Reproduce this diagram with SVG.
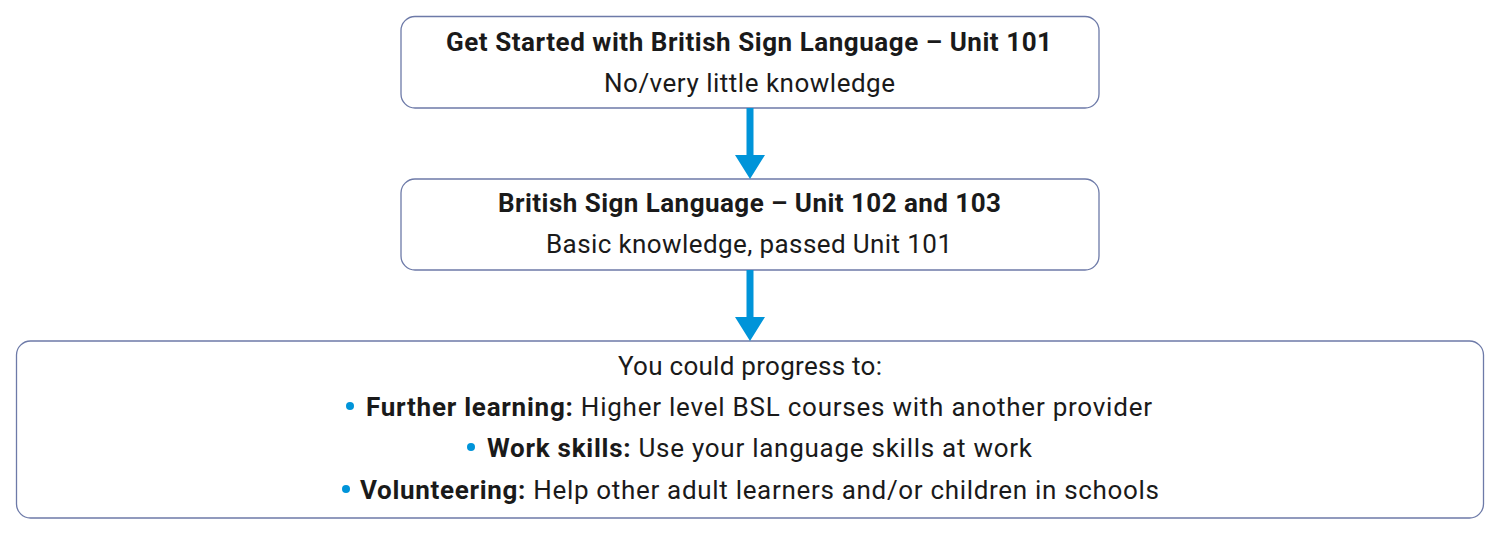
<svg xmlns="http://www.w3.org/2000/svg" width="1500" height="534" viewBox="0 0 1500 534">
<style>
.box{fill:#fff;stroke:#6d7aa8;stroke-width:1.3}
text{font-family:Roboto,"Liberation Sans",sans-serif;font-size:26px;fill:#1a1a1a}
.b{font-weight:bold}
.dot{fill:#0094d9}
.arr{fill:#0094d9}
</style>
<rect width="1500" height="534" fill="#fff"/>
<g id="node1">
<rect class="box" x="401" y="16.5" width="698" height="91.5" rx="14"/>
<text x="446" y="51" class="b" textLength="606" lengthAdjust="spacing">Get Started with British Sign Language – Unit 101</text>
<text x="604" y="92" textLength="291" lengthAdjust="spacing">No/very little knowledge</text>
</g>
<g id="node2">
<rect class="box" x="401" y="179" width="698" height="91" rx="14"/>
<text x="498" y="212" class="b" textLength="503" lengthAdjust="spacing">British Sign Language – Unit 102 and 103</text>
<text x="546" y="253" textLength="406" lengthAdjust="spacing">Basic knowledge, passed Unit 101</text>
</g>
<g id="node3">
<rect class="box" x="16.5" y="341" width="1467" height="177" rx="14"/>
<text x="618" y="375" textLength="264" lengthAdjust="spacing">You could progress to:</text>
<circle class="dot" cx="350" cy="406" r="4"/>
<text x="366" y="416" textLength="786" lengthAdjust="spacing"><tspan class="b">Further learning:</tspan> Higher level BSL courses with another provider</text>
<circle class="dot" cx="471" cy="447" r="4"/>
<text x="487" y="457" textLength="545" lengthAdjust="spacing"><tspan class="b">Work skills:</tspan> Use your language skills at work</text>
<circle class="dot" cx="346" cy="489" r="4"/>
<text x="360" y="499" textLength="799" lengthAdjust="spacing"><tspan class="b">Volunteering:</tspan> Help other adult learners and/or children in schools</text>
</g>
<g id="connectors">
<path class="arr" d="M746.5 108 H753.5 V155 H765 L750 179 L735 155 H746.5 Z"/>
<path class="arr" d="M746.5 270 H753.5 V317 H765 L750 341 L735 317 H746.5 Z"/>
</g>
</svg>
